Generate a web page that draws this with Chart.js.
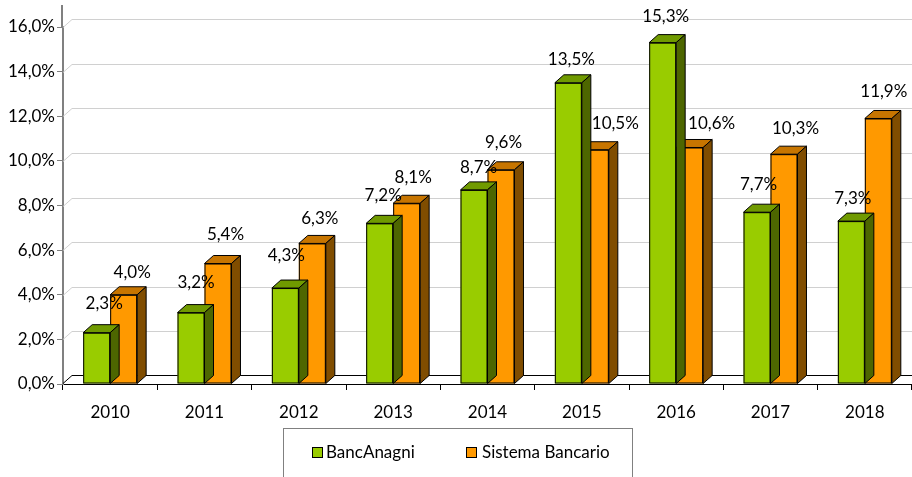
<!DOCTYPE html>
<html>
<head>
<meta charset="utf-8">
<script src="https://cdn.jsdelivr.net/npm/chart.js@4/dist/chart.umd.min.js"></script>
<style>
html,body{margin:0;padding:0;background:#fff;}
#wrap{width:912px;height:477px;position:relative;}
</style>
</head>
<body>
<div id="wrap"><canvas id="c" width="912" height="477"></canvas></div>
<script>
const categories = ['2010','2011','2012','2013','2014','2015','2016','2017','2018'];
const bancAnagni = [2.3, 3.2, 4.3, 7.2, 8.7, 13.5, 15.3, 7.7, 7.3];
const sistemaBancario = [4.0, 5.4, 6.3, 8.1, 9.6, 10.5, 10.6, 10.3, 11.9];
const seriesNames = ['BancAnagni', 'Sistema Bancario'];
const yTicks = [0, 2, 4, 6, 8, 10, 12, 14, 16];

// data-label placement relative to each bar (as laid out in the reference)
const labelDX = [
  [7.5, 5, 1, 3.5, 4.5, 3, 3, 1.5, 1.5],
  [8.5, 7.5, 7.5, 6.5, 2.5, 20, 22, 11.5, 5.5]
];
const labelDY = [
  [-29, -30, -33, -28, -22, -23, -26, -28, -23],
  [-22, -29, -25, -26, -27, -26, -24, -26, -26.5]
];

const FONT = "Lato,'DejaVu Sans Condensed',sans-serif";
const FS = 17;
const frontColors = ['#99CC00', '#FF9900'];
const topColors = ['#709A00', '#C77500'];
const sideColors = ['#4D6600', '#804D00'];
const DX = 9, DY = 8;
const fmt = v => v.toFixed(1).replace('.', ',') + '%';

const threeD = {
  id: 'threeD',
  beforeDatasetsDraw(chart) {
    const {ctx, chartArea: a, scales: {y}} = chart;
    ctx.save();
    ctx.lineWidth = 1;
    yTicks.forEach(v => {
      if (v === 0) return;
      const py = Math.round(y.getPixelForValue(v)) + 0.5;
      ctx.strokeStyle = '#D0D0D0';
      ctx.beginPath();
      ctx.moveTo(a.left, py);
      ctx.lineTo(a.left + DX, py - DY);
      ctx.lineTo(a.right, py - DY);
      ctx.stroke();
    });
    const pb = Math.round(y.getPixelForValue(0)) - 0.5;
    ctx.strokeStyle = '#000';
    ctx.beginPath();
    ctx.moveTo(a.left, pb);
    ctx.lineTo(a.left + DX, pb - DY);
    ctx.lineTo(a.right, pb - DY);
    ctx.stroke();
    ctx.strokeStyle = '#808080';
    ctx.lineWidth = 2;
    ctx.beginPath();
    ctx.moveTo(a.left - 1, 5);
    ctx.lineTo(a.left - 1, a.top + 1);
    ctx.stroke();
    ctx.restore();
  },
  afterDatasetDraw(chart, args) {
    const ctx = chart.ctx;
    const i = args.index;
    ctx.save();
    ctx.lineWidth = 1;
    ctx.strokeStyle = '#000';
    args.meta.data.forEach(bar => {
      const p = bar.getProps(['x', 'y', 'base', 'width'], true);
      const x1 = p.x - p.width / 2, x2 = p.x + p.width / 2;
      const yt = p.y, yb = p.base;
      ctx.fillStyle = topColors[i];
      ctx.beginPath();
      ctx.moveTo(x1, yt); ctx.lineTo(x2, yt);
      ctx.lineTo(x2 + DX, yt - DY); ctx.lineTo(x1 + DX, yt - DY);
      ctx.closePath(); ctx.fill(); ctx.stroke();
      ctx.fillStyle = sideColors[i];
      ctx.beginPath();
      ctx.moveTo(x2, yt); ctx.lineTo(x2 + DX, yt - DY);
      ctx.lineTo(x2 + DX, yb - DY); ctx.lineTo(x2, yb);
      ctx.closePath(); ctx.fill(); ctx.stroke();
      ctx.strokeRect(x1 + 0.5, yt + 0.5, x2 - x1 - 1, yb - yt - 1);
    });
    ctx.restore();
  },
  afterDatasetsDraw(chart) {
    const ctx = chart.ctx;
    ctx.save();
    ctx.font = FS + 'px ' + FONT;
    ctx.fillStyle = '#000';
    ctx.textAlign = 'center';
    ctx.textBaseline = 'middle';
    chart.data.datasets.forEach((ds, i) => {
      chart.getDatasetMeta(i).data.forEach((bar, j) => {
        ctx.fillText(fmt(ds.data[j]), bar.x + labelDX[i][j], bar.y + labelDY[i][j]);
      });
    });
    ctx.restore();
  },
  afterDraw(chart) {
    const ctx = chart.ctx;
    ctx.save();
    ctx.strokeStyle = '#808080';
    ctx.lineWidth = 1;
    ctx.strokeRect(283.5, 428.5, 349, 60);
    ctx.font = FS + 'px ' + FONT;
    ctx.textBaseline = 'middle';
    const items = [[312, 326], [466, 482]];
    chart.data.datasets.forEach((ds, i) => {
      const [bx, tx] = items[i];
      ctx.fillStyle = frontColors[i];
      ctx.fillRect(bx, 447, 11, 11);
      ctx.strokeStyle = '#000';
      ctx.strokeRect(bx + 0.5, 447.5, 10, 10);
      ctx.fillStyle = '#000';
      ctx.fillText(ds.label, tx, 453);
    });
    ctx.restore();
  }
};

new Chart(document.getElementById('c'), {
  type: 'bar',
  data: {
    labels: categories,
    datasets: [
      {label: seriesNames[0], data: bancAnagni, backgroundColor: frontColors[0], borderWidth: 0},
      {label: seriesNames[1], data: sistemaBancario, backgroundColor: frontColors[1], borderWidth: 0}
    ]
  },
  options: {
    responsive: false,
    animation: false,
    layout: {padding: {top: 27, right: 0, left: 0, bottom: 0}},
    datasets: {bar: {barPercentage: 1, categoryPercentage: 0.572}},
    plugins: {legend: {display: false}, tooltip: {enabled: false}},
    scales: {
      x: {
        afterFit(s) { s.height = 93; },
        grid: {drawOnChartArea: false, offset: true, tickLength: 6, color: '#000'},
        border: {display: true, color: '#000', width: 1},
        ticks: {font: {family: FONT, size: FS}, color: '#000', padding: 12}
      },
      y: {
        min: 0, max: 16,
        afterFit(s) { s.width = 63; },
        afterBuildTicks(s) { s.ticks = yTicks.map(v => ({value: v})); },
        grid: {drawOnChartArea: false, tickLength: 6, color: '#808080'},
        border: {display: true, color: '#808080', width: 2},
        ticks: {font: {family: FONT, size: FS}, color: '#000', padding: 2, callback: v => fmt(v)}
      }
    }
  },
  plugins: [threeD]
});
</script>
</body>
</html>
